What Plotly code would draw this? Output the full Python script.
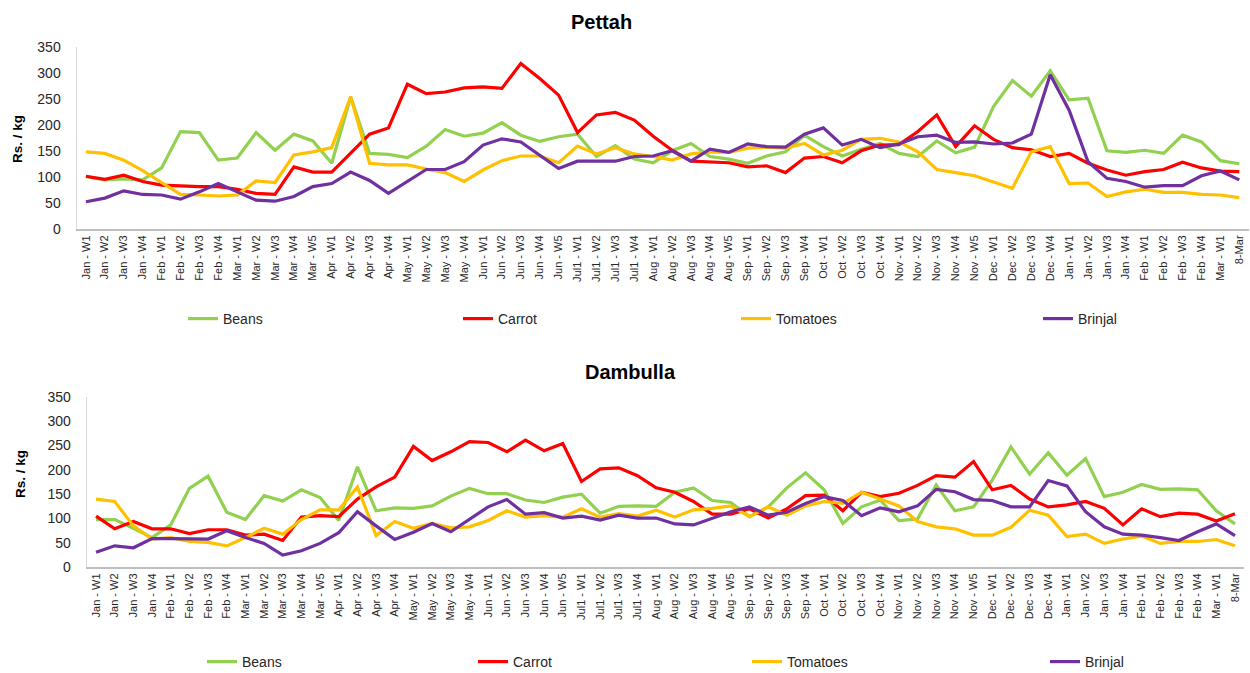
import plotly.graph_objects as go

categories = [
    "Jan - W1", "Jan - W2", "Jan - W3", "Jan - W4",
    "Feb - W1", "Feb - W2", "Feb - W3", "Feb - W4",
    "Mar - W1", "Mar - W2", "Mar - W3", "Mar - W4", "Mar - W5",
    "Apr - W1", "Apr - W2", "Apr - W3", "Apr - W4",
    "May - W1", "May - W2", "May - W3", "May - W4",
    "Jun - W1", "Jun - W2", "Jun - W3", "Jun - W4", "Jun - W5",
    "Jul1 - W1", "Jul1 - W2", "Jul1 - W3", "Jul1 - W4",
    "Aug - W1", "Aug - W2", "Aug - W3", "Aug - W4", "Aug - W5",
    "Sep - W1", "Sep - W2", "Sep - W3", "Sep - W4",
    "Oct - W1", "Oct - W2", "Oct - W3", "Oct - W4",
    "Nov - W1", "Nov - W2", "Nov - W3", "Nov - W4", "Nov - W5",
    "Dec - W1", "Dec - W2", "Dec - W3", "Dec - W4",
    "Jan - W1", "Jan - W2", "Jan - W3", "Jan - W4",
    "Feb - W1", "Feb - W2", "Feb - W3", "Feb - W4",
    "Mar - W1", "8-Mar",
]

series_names = ["Beans", "Carrot", "Tomatoes", "Brinjal"]
series_colors = ["#92D050", "#FF0000", "#FFC000", "#7030A0"]

pettah_beans = [101, 95, 97, 95, 118, 188, 186, 133, 137, 186, 152, 183, 170, 127, 255, 146, 144,
                138, 160, 192, 179, 185, 205, 181, 169, 178, 183, 140, 161, 135, 128, 151, 165, 140,
                135, 127, 141, 149, 181, 159, 141, 154, 165, 146, 140, 170, 147, 158, 236, 286, 256,
                305, 249, 252, 151, 148, 152, 146, 181, 168, 132, 126]
pettah_carrot = [102, 96, 104, 92, 85, 83, 82, 82, 77, 69, 67, 120, 110, 110, 146, 183, 195,
                 279, 261, 264, 272, 274, 271, 319, 290, 258, 186, 220, 225, 210, 179, 152, 131, 130,
                 128, 120, 122, 109, 137, 140, 128, 151, 162, 163, 188, 220, 159, 199, 173, 157, 153,
                 140, 146, 127, 114, 104, 111, 115, 129, 118, 112, 111]
pettah_tomatoes = [149, 146, 133, 113, 90, 67, 66, 64, 66, 93, 90, 143, 149, 157, 255, 127, 124,
                   124, 116, 109, 92, 114, 132, 141, 141, 128, 160, 145, 157, 145, 140, 133, 145, 149,
                   148, 156, 158, 156, 165, 143, 152, 173, 175, 168, 149, 115, 109, 103, 91, 79, 149,
                   159, 88, 89, 63, 72, 77, 71, 71, 67, 66, 61]
pettah_brinjal = [53, 60, 74, 67, 66, 58, 72, 88, 72, 56, 54, 63, 82, 88, 110, 94, 69,
                  92, 115, 115, 130, 162, 174, 168, 142, 117, 131, 131, 131, 140, 141, 151, 131, 154,
                  148, 164, 159, 158, 183, 195, 162, 173, 157, 164, 178, 181, 167, 168, 164, 166, 183,
                  297, 229, 130, 98, 92, 81, 84, 84, 103, 112, 95]

dambulla_beans = [98, 98, 80, 61, 87, 162, 187, 113, 98, 147, 136, 159, 143, 96, 206, 116, 122,
                  121, 126, 146, 162, 151, 151, 138, 133, 144, 150, 111, 125, 126, 125, 154, 163, 137,
                  133, 104, 124, 163, 194, 159, 90, 124, 138, 96, 99, 169, 116, 124, 179, 247, 191,
                  235, 189, 223, 145, 154, 170, 160, 161, 159, 116, 89]
dambulla_carrot = [105, 79, 94, 79, 79, 69, 77, 77, 66, 68, 55, 103, 106, 104, 140, 165, 185,
                   248, 219, 237, 258, 256, 237, 261, 239, 254, 176, 202, 204, 188, 163, 154, 135, 109,
                   109, 120, 101, 120, 147, 148, 116, 154, 145, 152, 168, 188, 185, 217, 159, 168, 140,
                   124, 128, 135, 121, 87, 120, 104, 111, 109, 95, 110]
dambulla_tomatoes = [140, 135, 85, 58, 61, 53, 51, 44, 61, 80, 68, 98, 118, 118, 165, 65, 94,
                     80, 90, 81, 83, 96, 116, 103, 106, 103, 120, 103, 110, 105, 117, 103, 118, 121,
                     126, 104, 124, 107, 126, 135, 131, 154, 140, 126, 94, 83, 79, 66, 66, 82, 117,
                     107, 63, 68, 49, 58, 64, 49, 53, 53, 57, 44]
dambulla_brinjal = [31, 44, 40, 59, 59, 58, 58, 75, 61, 49, 25, 34, 49, 71, 114, 85, 57,
                    72, 90, 73, 99, 124, 139, 109, 112, 101, 105, 97, 107, 101, 101, 89, 87, 101,
                    114, 124, 107, 113, 131, 145, 137, 106, 122, 114, 126, 160, 155, 139, 137, 124, 124,
                    178, 167, 114, 83, 68, 66, 61, 55, 73, 89, 65]

y_ticks = [0, 50, 100, 150, 200, 250, 300, 350]

W, H = 1250, 673
FONT = "Liberation Sans"
positions = list(range(len(categories)))

pettah = [pettah_beans, pettah_carrot, pettah_tomatoes, pettah_brinjal]
dambulla = [dambulla_beans, dambulla_carrot, dambulla_tomatoes, dambulla_brinjal]

# legend item x positions in pixels (left edge of legend box)
top_leg_x = [183, 458, 736, 1038]
bot_leg_x = [202, 473, 747, 1045]
top_leg_y = 319
bot_leg_y = 662

fig = go.Figure()
legends = {}
for k, (name, color, vals) in enumerate(zip(series_names, series_colors, pettah)):
    lid = "legend" if k == 0 else f"legend{k + 1}"
    fig.add_trace(go.Scatter(x=positions, y=vals, name=name, mode="lines",
                             line=dict(color=color, width=3.2), xaxis="x", yaxis="y",
                             legend=lid))
    legends[lid] = dict(x=top_leg_x[k] / W, y=1 - top_leg_y / H, xanchor="left",
                        yanchor="middle", orientation="h", bgcolor="rgba(0,0,0,0)",
                        font=dict(family=FONT, size=14, color="#262626"))
for k, (name, color, vals) in enumerate(zip(series_names, series_colors, dambulla)):
    lid = f"legend{k + 5}"
    fig.add_trace(go.Scatter(x=positions, y=vals, name=name, mode="lines",
                             line=dict(color=color, width=3.2), xaxis="x2", yaxis="y2",
                             legend=lid))
    legends[lid] = dict(x=bot_leg_x[k] / W, y=1 - bot_leg_y / H, xanchor="left",
                        yanchor="middle", orientation="h", bgcolor="rgba(0,0,0,0)",
                        font=dict(family=FONT, size=14, color="#262626"))

xcommon = dict(tickmode="array", tickvals=positions, ticktext=categories, tickangle=-90,
               range=[-0.5, len(categories) - 0.5], showgrid=False, zeroline=False,
               showline=True, linecolor="#BFBFBF", linewidth=1.5, ticks="",
               ticklabeloverflow="allow",
               tickfont=dict(family=FONT, size=11, color="#262626"), automargin=False)
ycommon = dict(range=[0, 350], tickvals=y_ticks, showgrid=False, zeroline=False,
               showline=True, linecolor="#D9D9D9", linewidth=1, ticks="",
               ticklabelstandoff=12,
               tickfont=dict(family=FONT, size=14, color="#262626"), automargin=False)

fig.update_layout(
    width=W, height=H,
    margin=dict(l=0, r=0, t=0, b=0, autoexpand=False),
    paper_bgcolor="white", plot_bgcolor="white",
    showlegend=True,
    xaxis=dict(xcommon, domain=[76.5 / W, 0.999], anchor="y"),
    yaxis=dict(ycommon, domain=[1 - 229.3 / H, 1 - 47.3 / H], anchor="x"),
    xaxis2=dict(xcommon, domain=[86.7 / W, 1244.3 / W], anchor="y2"),
    yaxis2=dict(ycommon, domain=[1 - 567.3 / H, 1 - 396.7 / H], anchor="x2"),
    annotations=[
        dict(text="<b>Pettah</b>", x=601 / W, y=1 - 22 / H, xref="paper", yref="paper",
             xanchor="center", yanchor="middle",
             showarrow=False, font=dict(family=FONT, size=20, color="#000000")),
        dict(text="<b>Dambulla</b>", x=630 / W, y=1 - 372 / H, xref="paper", yref="paper",
             xanchor="center", yanchor="middle",
             showarrow=False, font=dict(family=FONT, size=20, color="#000000")),
        dict(text="<b>Rs. / kg</b>", x=18 / W, y=1 - 139 / H, xref="paper", yref="paper",
             xanchor="center", yanchor="middle",
             showarrow=False, textangle=-90, font=dict(family=FONT, size=13.5, color="#000000")),
        dict(text="<b>Rs. / kg</b>", x=20 / W, y=1 - 474 / H, xref="paper", yref="paper",
             xanchor="center", yanchor="middle",
             showarrow=False, textangle=-90, font=dict(family=FONT, size=13.5, color="#000000")),
    ],
    **legends,
)

fig.write_html("out.html", config={"displayModeBar": False},
               post_script="document.body.style.margin='0';")
